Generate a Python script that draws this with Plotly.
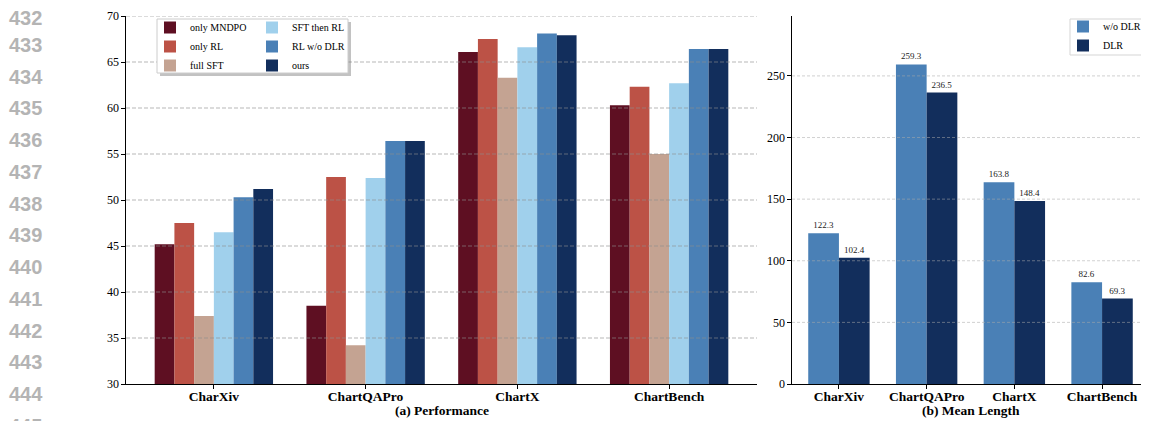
import plotly.graph_objects as go

# ---------------- data ----------------
categories = ["CharXiv", "ChartQAPro", "ChartX", "ChartBench"]

perf_names = ["only MNDPO", "only RL", "full SFT", "SFT then RL", "RL w/o DLR", "ours"]
only_mndpo = [45.2, 38.5, 66.1, 60.3]
only_rl = [47.5, 52.5, 67.5, 62.3]
full_sft = [37.4, 34.2, 63.3, 55.0]
sft_then_rl = [46.5, 52.4, 66.6, 62.7]
rl_wo_dlr = [50.3, 56.4, 68.1, 66.4]
ours = [51.2, 56.4, 67.9, 66.4]

len_names = ["w/o DLR", "DLR"]
len_wo_dlr = [122.3, 259.3, 163.8, 82.6]
len_dlr = [102.4, 236.5, 148.4, 69.3]

perf_ticks = [30, 35, 40, 45, 50, 55, 60, 65, 70]
len_ticks = [0, 50, 100, 150, 200, 250]

line_numbers = ["432", "433", "434", "435", "436", "437", "438",
                "439", "440", "441", "442", "443", "444", "445"]

# ---------------- style ----------------
perf_colors = ["#5e0f22", "#bc5246", "#c4a392", "#a0d0ec", "#4a80b6", "#122e5c"]
len_colors = ["#4a80b6", "#122e5c"]
SERIF = "Liberation Serif"

OFF = 8  # page body margin of the html page
W, H = 1149 - OFF, 421 - OFF
ML, MR, MT, MB = 126 - OFF, 0, 16 - OFF, 37
PW, PH = W - ML - MR, H - MT - MB


def px_x(p):  # screen pixel -> paper x
    return (p - OFF - ML) / PW


def px_y(p):  # screen pixel -> paper y
    return (H - MB - (p - OFF)) / PH


fig = go.Figure()

perf_series = [only_mndpo, only_rl, full_sft, sft_then_rl, rl_wo_dlr, ours]
bw1 = 0.13
n1 = len(perf_series)
for i, (name, vals, col) in enumerate(zip(perf_names, perf_series, perf_colors)):
    fig.add_trace(go.Bar(
        x=categories, y=vals, name=name, marker=dict(color=col, line=dict(width=0)),
        width=bw1, offset=-bw1 * n1 / 2 + i * bw1,
        xaxis="x", yaxis="y",
        legend="legend" if i < 3 else "legend2",
    ))

len_series = [len_wo_dlr, len_dlr]
bw2 = 0.35
for i, (name, vals, col) in enumerate(zip(len_names, len_series, len_colors)):
    fig.add_trace(go.Bar(
        x=categories, y=vals, name=name, marker=dict(color=col, line=dict(width=0)),
        width=bw2, offset=-bw2 + i * bw2,
        text=[f"{v:.1f}" for v in vals], textposition="outside",
        textfont=dict(family=SERIF, size=9, color="#222222"),
        cliponaxis=False,
        xaxis="x2", yaxis="y2", legend="legend3",
    ))

axis_common = dict(showline=True, linecolor="black", linewidth=1.2,
                   ticks="outside", ticklen=3.5, tickcolor="black", tickwidth=1,
                   mirror=False, zeroline=False)

fig.update_layout(
    width=W, height=H,
    margin=dict(l=ML, r=MR, t=MT, b=MB, autoexpand=False),
    paper_bgcolor="white", plot_bgcolor="white",
    font=dict(family=SERIF, color="black"),
    barmode="overlay",
    xaxis=dict(domain=[0, px_x(757)], range=[-0.579, 3.579], showgrid=False,
               ticklabelstandoff=-4,
               tickfont=dict(family=SERIF, size=13.5, weight="bold"), **axis_common),
    yaxis=dict(domain=[0, 1], range=[30, 70], tickvals=perf_ticks, showgrid=False,
               tickfont=dict(family=SERIF, size=12), **axis_common),
    xaxis2=dict(domain=[px_x(792), 1], range=[-0.535, 3.535], showgrid=False,
                anchor="y2", ticklabelstandoff=-4,
                tickfont=dict(family=SERIF, size=13.5, weight="bold"), **axis_common),
    yaxis2=dict(domain=[0, 1], range=[0, 298.6], tickvals=len_ticks, showgrid=False,
                anchor="x2",
                tickfont=dict(family=SERIF, size=12), **axis_common),
    showlegend=True,
    legend=dict(x=px_x(150), y=px_y(13), xanchor="left", yanchor="top",
                bgcolor="rgba(0,0,0,0)", borderwidth=0,
                font=dict(family=SERIF, size=10, color="black")),
    legend2=dict(x=px_x(252), y=px_y(13), xanchor="left", yanchor="top",
                 bgcolor="rgba(0,0,0,0)", borderwidth=0,
                 font=dict(family=SERIF, size=10, color="black")),
    legend3=dict(x=px_x(1063), y=px_y(12), xanchor="left", yanchor="top",
                 bgcolor="rgba(0,0,0,0)", borderwidth=0,
                 font=dict(family=SERIF, size=10, color="black")),
)

shapes = []
grid_line = dict(color="rgba(140,140,140,0.7)", width=0.9, dash="4px,2px")
for v in perf_ticks[1:]:
    shapes.append(dict(type="line", xref="x domain", yref="y", x0=0, x1=1, y0=v, y1=v,
                       line=grid_line, layer="above"))
for v in len_ticks[1:]:
    shapes.append(dict(type="line", xref="x2 domain", yref="y2", x0=0, x1=1, y0=v, y1=v,
                       line=dict(color="rgba(170,170,170,0.6)", width=0.9, dash="3px,2px"),
                       layer="above"))

# legend frames (left one with shadow)
shapes.append(dict(type="rect", xref="paper", yref="paper",
                   x0=px_x(160), x1=px_x(351), y0=px_y(76), y1=px_y(22),
                   fillcolor="rgba(120,120,120,0.45)", line=dict(width=0), layer="above"))
shapes.append(dict(type="rect", xref="paper", yref="paper",
                   x0=px_x(157), x1=px_x(348), y0=px_y(73), y1=px_y(19),
                   fillcolor="white", line=dict(color="#cccccc", width=1), layer="above"))
shapes.append(dict(type="rect", xref="paper", yref="paper",
                   x0=px_x(1070), x1=px_x(1145), y0=px_y(55), y1=px_y(19),
                   fillcolor="white", line=dict(color="#d5d5d5", width=1), layer="above"))
fig.update_layout(shapes=shapes)

annotations = [
    dict(text="(a) Performance", xref="x domain", yref="paper", x=0.5, y=px_y(410),
         xanchor="center", yanchor="middle", showarrow=False,
         font=dict(family=SERIF, size=13.5, weight="bold", color="black")),
    dict(text="(b) Mean Length", xref="x2 domain", yref="paper", x=0.5, y=px_y(410),
         xanchor="center", yanchor="middle", showarrow=False,
         font=dict(family=SERIF, size=13.5, weight="bold", color="black")),
]
for i, ln in enumerate(line_numbers):
    cy = 13 + 31.75 * i
    if i == 0:
        cy = 18  # keep the first number fully inside the page
    annotations.append(dict(text=ln, xref="paper", yref="paper", x=px_x(7),
                            y=px_y(cy), xanchor="left", yanchor="middle",
                            showarrow=False,
                            font=dict(family="Liberation Sans", size=20, weight="bold",
                                      color="#b4b4b4")))
fig.update_layout(annotations=annotations)

fig.write_html("out.html")
